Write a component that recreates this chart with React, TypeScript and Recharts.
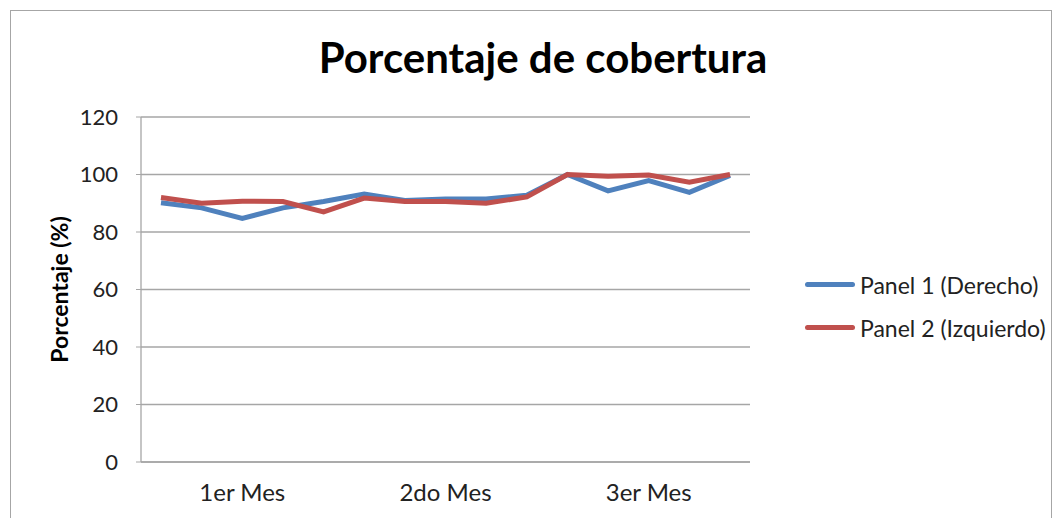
import { LineChart, Line, XAxis, YAxis, CartesianGrid, Legend } from 'recharts';

const periods = ['1', '2', '3', '4', '5', '6', '7', '8', '9', '10', '11', '12', '13', '14', '15'];
const monthLabels: Record<number, string> = { 2: '1er Mes', 7: '2do Mes', 12: '3er Mes' };
const panel1 = [90.2, 88.4, 84.7, 88.4, 90.6, 93.2, 91.0, 91.5, 91.5, 92.8, 100, 94.3, 97.9, 93.8, 99.7];
const panel2 = [92.0, 90.0, 90.7, 90.6, 87.0, 91.8, 90.6, 90.6, 90.0, 92.2, 100, 99.4, 99.8, 97.3, 100];
const yTicks = [0, 20, 40, 60, 80, 100, 120];

const data = periods.map((p, i) => ({ periodo: p, panel1: panel1[i], panel2: panel2[i] }));

const FONT = 'Lato, "Open Sans", sans-serif';
const BLUE = '#4F81BD';
const RED = '#C0504D';

// legend with long line samples, like Excel
const renderLegend = (props: any) => {
    const { payload } = props;
    return (
        <div style={{ fontFamily: FONT, fontSize: 23, color: '#222' }}>
            {(payload || []).map((entry: any) => (
                <div key={entry.value} style={{ display: 'flex', alignItems: 'center', height: 43, whiteSpace: 'nowrap' }}>
                    <span style={{ display: 'inline-block', width: 50, height: 5, borderRadius: 3, background: entry.color, marginRight: 5 }} />
                    <span>{entry.value}</span>
                </div>
            ))}
        </div>
    );
};

export default function App() {
    return (
        <div style={{ position: 'absolute', top: 0, left: 0, width: 1062, height: 518, background: '#fff', overflow: 'hidden' }}>
            <div style={{ position: 'absolute', left: 10, top: 10, width: 1040, height: 520, border: '1px solid #a6a6a6' }} />
            <div style={{ position: 'absolute', left: 0, top: 32, width: 1086, textAlign: 'center', fontFamily: FONT, fontWeight: 700, fontSize: 42, color: '#000' }}>
                Porcentaje de cobertura
            </div>
            <div style={{ position: 'absolute', left: 0, top: 0 }}>
                <LineChart width={1062} height={518} data={data} margin={{ top: 117, right: 52, bottom: 26, left: 0 }}>
                    <CartesianGrid vertical={false} stroke="#a6a6a6" strokeWidth={1.3} />
                    <XAxis
                        dataKey="periodo"
                        interval={0}
                        padding={{ left: 20, right: 20 }}
                        tickLine={false}
                        axisLine={{ stroke: '#a6a6a6', strokeWidth: 1.3 }}
                        tick={{ fill: '#222', fontSize: 24, fontFamily: FONT }}
                        tickMargin={16}
                        tickFormatter={(_v: any, i: number) => monthLabels[i] ?? ''}
                    />
                    <YAxis
                        width={141}
                        domain={[0, 120]}
                        ticks={yTicks}
                        tickSize={5}
                        tickMargin={18}
                        tickLine={{ stroke: '#a6a6a6' }}
                        axisLine={{ stroke: '#a6a6a6', strokeWidth: 1.3 }}
                        tick={{ fill: '#222', fontSize: 22, fontFamily: FONT }}
                        label={{
                            value: 'Porcentaje (%)',
                            angle: -90,
                            position: 'insideLeft',
                            offset: 60,
                            style: { textAnchor: 'middle', fontFamily: FONT, fontWeight: 700, fontSize: 23, fill: '#000' },
                        }}
                    />
                    <Legend
                        layout="vertical"
                        align="right"
                        verticalAlign="top"
                        content={renderLegend}
                        wrapperStyle={{ left: 805, top: 263, width: 260 }}
                    />
                    <Line type="linear" dataKey="panel1" name="Panel 1 (Derecho)" stroke={BLUE} strokeWidth={5} dot={false} isAnimationActive={false} />
                    <Line type="linear" dataKey="panel2" name="Panel 2 (Izquierdo)" stroke={RED} strokeWidth={5} dot={false} isAnimationActive={false} />
                </LineChart>
            </div>
        </div>
    );
}
